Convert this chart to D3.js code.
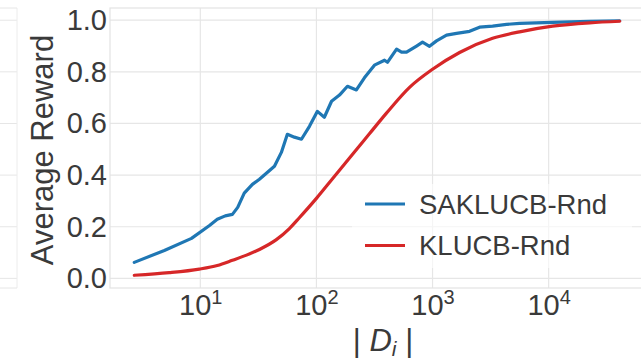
<!DOCTYPE html>
<html>
<head>
<meta charset="utf-8">
<script src="https://cdn.jsdelivr.net/npm/d3@7"></script>
<style>
  html, body { margin: 0; padding: 0; background: #fff; }
  svg { display: block; font-family: "Liberation Sans", Arial, sans-serif; }
</style>
</head>
<body>
<svg id="chart" width="641" height="364"></svg>
<script>
// |D_i| sample sizes and average reward for each method
const saklucbD = [2.7, 4.9, 8.4, 12.0, 14.0, 16.4, 18.9, 21.0, 23.9, 28.1, 32.3, 43.5, 49.9, 56.2, 64.6, 74.3,
  87.1, 102, 117, 135, 158, 185, 221, 259, 316, 386, 409, 490, 541, 597, 728, 820, 942, 1082,
  1320, 1611, 2085, 2542, 3290, 4345, 5620, 10820, 22540, 40940];
const saklucbReward = [0.062, 0.108, 0.155, 0.205, 0.229, 0.242, 0.248, 0.275, 0.33, 0.364, 0.384, 0.434, 0.488,
  0.558, 0.547, 0.539, 0.589, 0.647, 0.624, 0.686, 0.71, 0.744, 0.73, 0.777, 0.826, 0.845, 0.837, 0.888,
  0.876, 0.876, 0.9, 0.915, 0.899, 0.92, 0.942, 0.949, 0.957, 0.973, 0.977, 0.984, 0.988, 0.992, 0.996, 0.998];

const klucbD = [2.7, 5.4, 9.8, 14.0, 18.9, 25.0, 32.3, 45.2, 58.5, 71.3, 100, 137, 204, 286, 401, 634, 1000,
  1710, 3290, 5620, 10820, 22540, 40940];
const klucbReward = [0.012, 0.022, 0.036, 0.05, 0.07, 0.09, 0.112, 0.15, 0.193, 0.235, 0.31, 0.385, 0.48, 0.56,
  0.64, 0.74, 0.81, 0.875, 0.93, 0.955, 0.977, 0.99, 0.996];

const seriesNames = ["SAKLUCB-Rnd", "KLUCB-Rnd"];
const seriesColors = ["#1f77b4", "#d62728"];
const yTicks = [0.0, 0.2, 0.4, 0.6, 0.8, 1.0];
const xTickExps = [1, 2, 3, 4];

const series = [
  { name: seriesNames[0], color: seriesColors[0], curve: d3.curveLinear,
    pts: saklucbD.map((d, i) => [d, saklucbReward[i]]) },
  { name: seriesNames[1], color: seriesColors[1], curve: d3.curveMonotoneX,
    pts: klucbD.map((d, i) => [d, klucbReward[i]]) }
];

const svg = d3.select("#chart");
const plotL = 110, plotR = 644, plotT = 8, plotB = 288;
const gridColor = "#e6e6e6";
const textColor = "#3a3a3a";

// 5% padding around the data, log space for x
const allD = saklucbD.concat(klucbD);
const allR = saklucbReward.concat(klucbReward);
const lx0 = Math.log10(d3.min(allD)), lx1 = Math.log10(d3.max(allD));
const padX = (lx1 - lx0) * 0.05;
const x = d3.scaleLog().domain([10 ** (lx0 - padX), 10 ** (lx1 + padX)]).range([plotL, plotR]);
const r0 = d3.min(allR), r1 = d3.max(allR);
const padY = (r1 - r0) * 0.05;
const y = d3.scaleLinear().domain([r0 - padY, r1 + padY]).range([plotB, plotT]);

// neighbouring panel edge on the left
const side = svg.append("g");
yTicks.forEach(t => side.append("line")
  .attr("x1", 0).attr("x2", 17).attr("y1", y(t)).attr("y2", y(t))
  .attr("stroke", gridColor).attr("stroke-width", 1));
side.append("line").attr("x1", 17).attr("x2", 17).attr("y1", plotT).attr("y2", plotB)
  .attr("stroke", "#ececec").attr("stroke-width", 1);
side.append("line").attr("x1", 0).attr("x2", 17).attr("y1", plotT).attr("y2", plotT)
  .attr("stroke", gridColor);
side.append("line").attr("x1", 0).attr("x2", 17).attr("y1", plotB).attr("y2", plotB)
  .attr("stroke", gridColor);

// grid
const grid = svg.append("g");
yTicks.forEach(t => grid.append("line")
  .attr("x1", plotL).attr("x2", plotR).attr("y1", y(t)).attr("y2", y(t))
  .attr("stroke", gridColor).attr("stroke-width", 1.2));
xTickExps.forEach(e => grid.append("line")
  .attr("x1", x(10 ** e)).attr("x2", x(10 ** e)).attr("y1", plotT).attr("y2", plotB)
  .attr("stroke", gridColor).attr("stroke-width", 1.2));

// frame
svg.append("rect").attr("x", plotL).attr("y", plotT)
  .attr("width", plotR - plotL).attr("height", plotB - plotT)
  .attr("fill", "none").attr("stroke", "#e3e3e3").attr("stroke-width", 1.2);

// y axis labels
const yAxis = d3.axisLeft(y).tickValues(yTicks).tickFormat(d3.format(".1f")).tickSize(0).tickPadding(3);
svg.append("g").attr("transform", `translate(${plotL},0)`).call(yAxis)
  .call(g => g.select(".domain").remove())
  .selectAll("text").attr("font-size", 29).attr("fill", textColor)
  .attr("font-family", "Liberation Sans, Arial, sans-serif");

// x axis labels as powers of ten
const xAxis = d3.axisBottom(x).tickValues(xTickExps.map(e => 10 ** e)).tickSize(0).tickFormat("");
const xg = svg.append("g").attr("transform", `translate(0,${plotB})`).call(xAxis);
xg.select(".domain").remove();
xg.selectAll(".tick").each(function (d) {
  const t = d3.select(this).append("text")
    .attr("y", 27).attr("text-anchor", "middle")
    .attr("fill", textColor).attr("font-size", 29)
    .attr("font-family", "Liberation Sans, Arial, sans-serif");
  t.append("tspan").text("10");
  t.append("tspan").attr("dy", -11).attr("font-size", 20).text(Math.round(Math.log10(d)));
});

// lines
series.forEach(s => {
  const line = d3.line().curve(s.curve).x(d => x(d[0])).y(d => y(d[1]));
  svg.append("path")
    .attr("d", line(s.pts)).attr("fill", "none")
    .attr("stroke", s.color).attr("stroke-width", 3.2)
    .attr("stroke-linejoin", "round").attr("stroke-linecap", "round");
});

// legend
const lg = svg.append("g");
lg.append("rect").attr("x", 352).attr("y", 184).attr("width", 280).attr("height", 84).attr("rx", 4)
  .attr("fill", "#fff").attr("fill-opacity", 0.6);
series.forEach((s, i) => {
  const cy = 204 + i * 41.5;
  lg.append("line").attr("x1", 365).attr("x2", 405).attr("y1", cy).attr("y2", cy)
    .attr("stroke", s.color).attr("stroke-width", 3.2);
  lg.append("text").attr("x", 419).attr("y", cy).attr("dy", "0.36em")
    .attr("font-size", 27.5).attr("fill", textColor).text(s.name);
});

// axis titles
svg.append("text").attr("transform", "translate(53,150) rotate(-90)")
  .attr("text-anchor", "middle").attr("font-size", 31).attr("fill", textColor)
  .text("Average Reward");
const xt = svg.append("text").attr("x", 383).attr("y", 351).attr("text-anchor", "middle")
  .attr("font-size", 31).attr("fill", textColor);
xt.append("tspan").text("| ");
xt.append("tspan").attr("font-style", "italic").text("D");
xt.append("tspan").attr("font-style", "italic").attr("font-size", 21).attr("dy", 5).text("i");
xt.append("tspan").attr("dy", -5).text(" |");
</script>
</body>
</html>
